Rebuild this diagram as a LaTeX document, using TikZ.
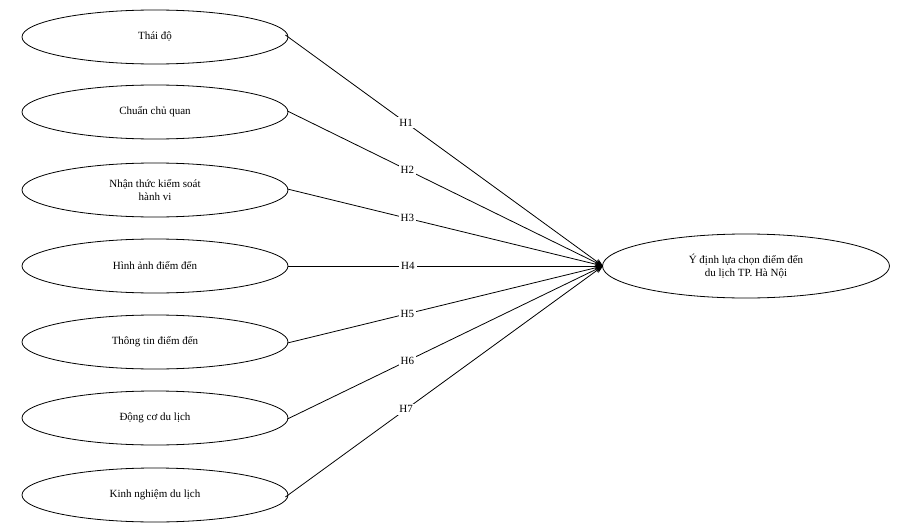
\documentclass[tikz,border=0pt]{standalone}
\usepackage{fontspec}
\setmainfont{Liberation Serif}
\usetikzlibrary{arrows.meta,shapes.geometric}
\begin{document}
\begin{tikzpicture}[x=1pt,y=-1pt,
  src/.style={draw,thick,ellipse,minimum width=266pt,minimum height=54pt,align=center,font=\fontsize{11}{13}\selectfont,inner sep=0pt},
  lnk/.style={thick,-{Stealth[length=8pt,width=6pt]}},
  lab/.style={fill=white,font=\fontsize{11}{13}\selectfont,inner sep=2pt}]
\useasboundingbox (0,0) rectangle (903,530);
\node[src] (a) at (155,37) {Thái độ};
\node[src] (b) at (155,112) {Chuẩn chủ quan};
\node[src] (c) at (155,190) {Nhận thức kiểm soát\\hành vi};
\node[src] (d) at (155,266) {Hình ảnh điểm đến};
\node[src] (e) at (155,342) {Thông tin điểm đến};
\node[src] (f) at (155,418) {Động cơ du lịch};
\node[src] (g) at (155,495) {Kinh nghiệm du lịch};
\node[draw,thick,ellipse,minimum width=287pt,minimum height=64pt,align=center,font=\fontsize{11}{13}\selectfont,inner sep=0pt] (t) at (746,266) {Ý định lựa chọn điểm đến\\du lịch TP. Hà Nội};
\coordinate (p) at (603,266);
\draw[lnk] ([xshift=-3pt,yshift=2pt]a.east) -- node[lab,pos=0.38]{H1} (p);
\draw[lnk] ([xshift=-1pt,yshift=1pt]b.east) -- node[lab,pos=0.38]{H2} (p);
\draw[lnk] ([xshift=-1pt,yshift=1pt]c.east) -- node[lab,pos=0.38]{H3} (p);
\draw[lnk] (d.east) -- node[lab,pos=0.38]{H4} (p);
\draw[lnk] ([xshift=-1pt,yshift=-1pt]e.east) -- node[lab,pos=0.38]{H5} (p);
\draw[lnk] ([xshift=-1pt,yshift=-1pt]f.east) -- node[lab,pos=0.38]{H6} (p);
\draw[lnk] ([xshift=-3pt,yshift=-2pt]g.east) -- node[lab,pos=0.38]{H7} (p);
\end{tikzpicture}
\end{document}
